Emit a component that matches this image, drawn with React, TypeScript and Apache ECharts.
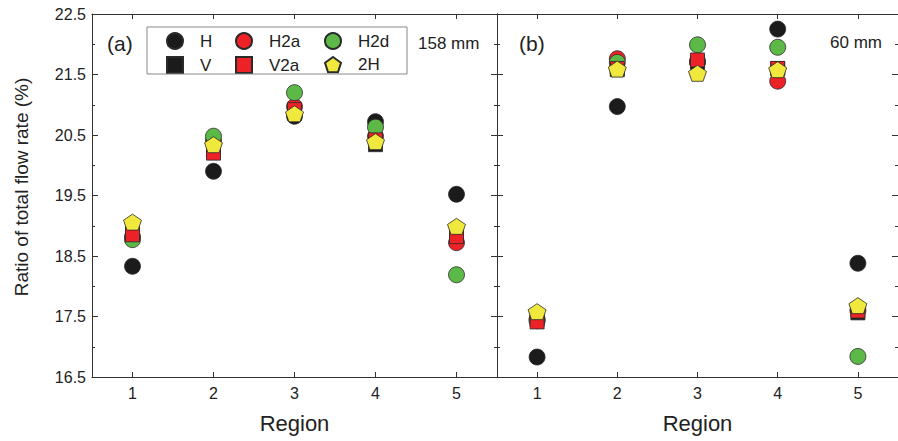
import React, { useEffect, useRef } from "react";
import * as echarts from "echarts";

const regions = ["1", "2", "3", "4", "5"];
const yTickMin = 16.5;
const yTickMax = 22.5;

// Panel (a): 158 mm
const aH = [18.33, 19.9, 20.81, 20.72, 19.52];
const aV = [18.88, 20.25, 20.86, 20.34, 18.84];
const aH2a = [18.82, 20.4, 20.97, 20.48, 18.72];
const aV2a = [18.85, 20.2, 20.92, 20.42, 18.82];
const aH2d = [18.77, 20.48, 21.2, 20.63, 18.19];
const a2H = [19.06, 20.34, 20.85, 20.39, 18.99];

// Panel (b): 60 mm
const bH = [16.83, 20.97, 21.7, 22.25, 18.38];
const bV = [17.45, 21.58, 21.7, 21.6, 17.56];
const bH2a = [17.45, 21.76, 21.72, 21.39, 17.6];
const bV2a = [17.41, 21.6, 21.74, 21.6, 17.59];
const bH2d = [17.43, 21.7, 21.99, 21.95, 16.84];
const b2H = [17.58, 21.59, 21.52, 21.58, 17.68];

const FONT = "'Liberation Sans', Arial, sans-serif";
const PENTAGON =
  "path://M100,0L195.1,69.1L158.8,180.9L41.2,180.9L4.9,69.1Z";

const seriesDefs = [
  { name: "H", symbol: "circle", size: 16, color: "#1b1b1b", a: aH, b: bH },
  { name: "H2a", symbol: "circle", size: 16, color: "#ec2227", a: aH2a, b: bH2a },
  { name: "H2d", symbol: "circle", size: 16, color: "#5db947", a: aH2d, b: bH2d },
  { name: "V", symbol: "rect", size: 14, color: "#1b1b1b", a: aV, b: bV },
  { name: "V2a", symbol: "rect", size: 14, color: "#ec2227", a: aV2a, b: bV2a },
  { name: "2H", symbol: PENTAGON, size: [18, 16], color: "#f0e83c", a: a2H, b: b2H },
];

export default function App() {
  const ref = useRef<HTMLDivElement>(null);
  useEffect(() => {
    document.body.style.margin = "0";
    if (!ref.current) return;
    const chart = echarts.init(ref.current, undefined, { renderer: "svg" });
    const lineColor = "#333";
    const mkX = (gridIndex: number, position: string, labels: boolean) => ({
      type: "category",
      gridIndex,
      position,
      data: regions,
      boundaryGap: true,
      axisLine: { show: true, lineStyle: { color: lineColor, width: 1 } },
      axisTick: { show: true, inside: true, alignWithLabel: true, length: 5, lineStyle: { color: lineColor } },
      axisLabel: { show: labels, fontSize: 16, color: "#222", margin: 8, fontFamily: FONT },
      splitLine: { show: false },
      name: labels ? "Region" : "",
      nameLocation: "middle",
      nameGap: 35,
      nameTextStyle: { fontSize: 22, color: "#222", fontFamily: FONT },
    });
    const mkY = (gridIndex: number, position: string, labels: boolean) => ({
      type: "value",
      gridIndex,
      position,
      min: yTickMin,
      max: yTickMax,
      interval: 1,
      axisLine: { show: true, lineStyle: { color: lineColor, width: 1 } },
      axisTick: { show: true, inside: true, length: 6, lineStyle: { color: lineColor } },
      minorTick: { show: true, splitNumber: 2, length: 3, lineStyle: { color: lineColor } },
      axisLabel: {
        show: labels,
        fontSize: 16,
        color: "#222",
        margin: 6,
        fontFamily: FONT,
        formatter: (v: number) => v.toFixed(1),
      },
      splitLine: { show: false },
      minorSplitLine: { show: false },
    });
    const series: any[] = [];
    [0, 1].forEach((g) => {
      seriesDefs.forEach((d) => {
        series.push({
          type: "scatter",
          name: d.name,
          xAxisIndex: g * 2,
          yAxisIndex: g * 2,
          data: g === 0 ? d.a : d.b,
          symbol: d.symbol,
          symbolSize: d.size,
          itemStyle: { color: d.color, borderColor: "#2a2a2a", borderWidth: 0.8, opacity: 1 },
          emphasis: { disabled: true },
        });
      });
    });
    const legendBase = {
      orient: "vertical",
      top: 27,
      padding: 5,
      itemWidth: 16,
      itemHeight: 16,
      itemGap: 6,
      selectedMode: false,
      textStyle: { fontSize: 17, color: "#222", fontFamily: FONT, padding: [0, 0, 0, 12] },
    };
    chart.setOption({
      animation: false,
      textStyle: { fontFamily: FONT },
      grid: [
        { left: 92, top: 14, width: 405, height: 363 },
        { left: 497, top: 14, width: 404, height: 363 },
      ],
      xAxis: [mkX(0, "bottom", true), mkX(0, "top", false), mkX(1, "bottom", true), mkX(1, "top", false)],
      yAxis: [mkY(0, "left", true), mkY(0, "right", false), mkY(1, "left", false), mkY(1, "right", false)],
      legend: [
        { ...legendBase, left: 161, data: ["H", "V"] },
        { ...legendBase, left: 230, data: ["H2a", "V2a"] },
        { ...legendBase, left: 319, data: ["H2d", "2H"] },
      ],
      graphic: [
        {
          type: "rect",
          shape: { x: 147, y: 27, width: 260, height: 47 },
          style: { fill: "none", stroke: "#888", lineWidth: 1 },
          z: 10,
        },
        {
          type: "text",
          x: 21,
          y: 187,
          rotation: Math.PI / 2,
          style: { text: "Ratio of total flow rate (%)", font: `19px ${FONT}`, fill: "#222", align: "center", verticalAlign: "middle" },
        },
        { type: "text", x: 107, y: 43, style: { text: "(a)", font: `21px ${FONT}`, fill: "#222", verticalAlign: "middle" } },
        { type: "text", x: 418, y: 43, style: { text: "158 mm", font: `17px ${FONT}`, fill: "#222", verticalAlign: "middle" } },
        { type: "text", x: 519, y: 43, style: { text: "(b)", font: `21px ${FONT}`, fill: "#222", verticalAlign: "middle" } },
        { type: "text", x: 830, y: 42, style: { text: "60 mm", font: `17px ${FONT}`, fill: "#222", verticalAlign: "middle" } },
      ],
      series,
    });
    return () => chart.dispose();
  }, []);
  return <div ref={ref} style={{ width: 898, height: 441 }} />;
}
